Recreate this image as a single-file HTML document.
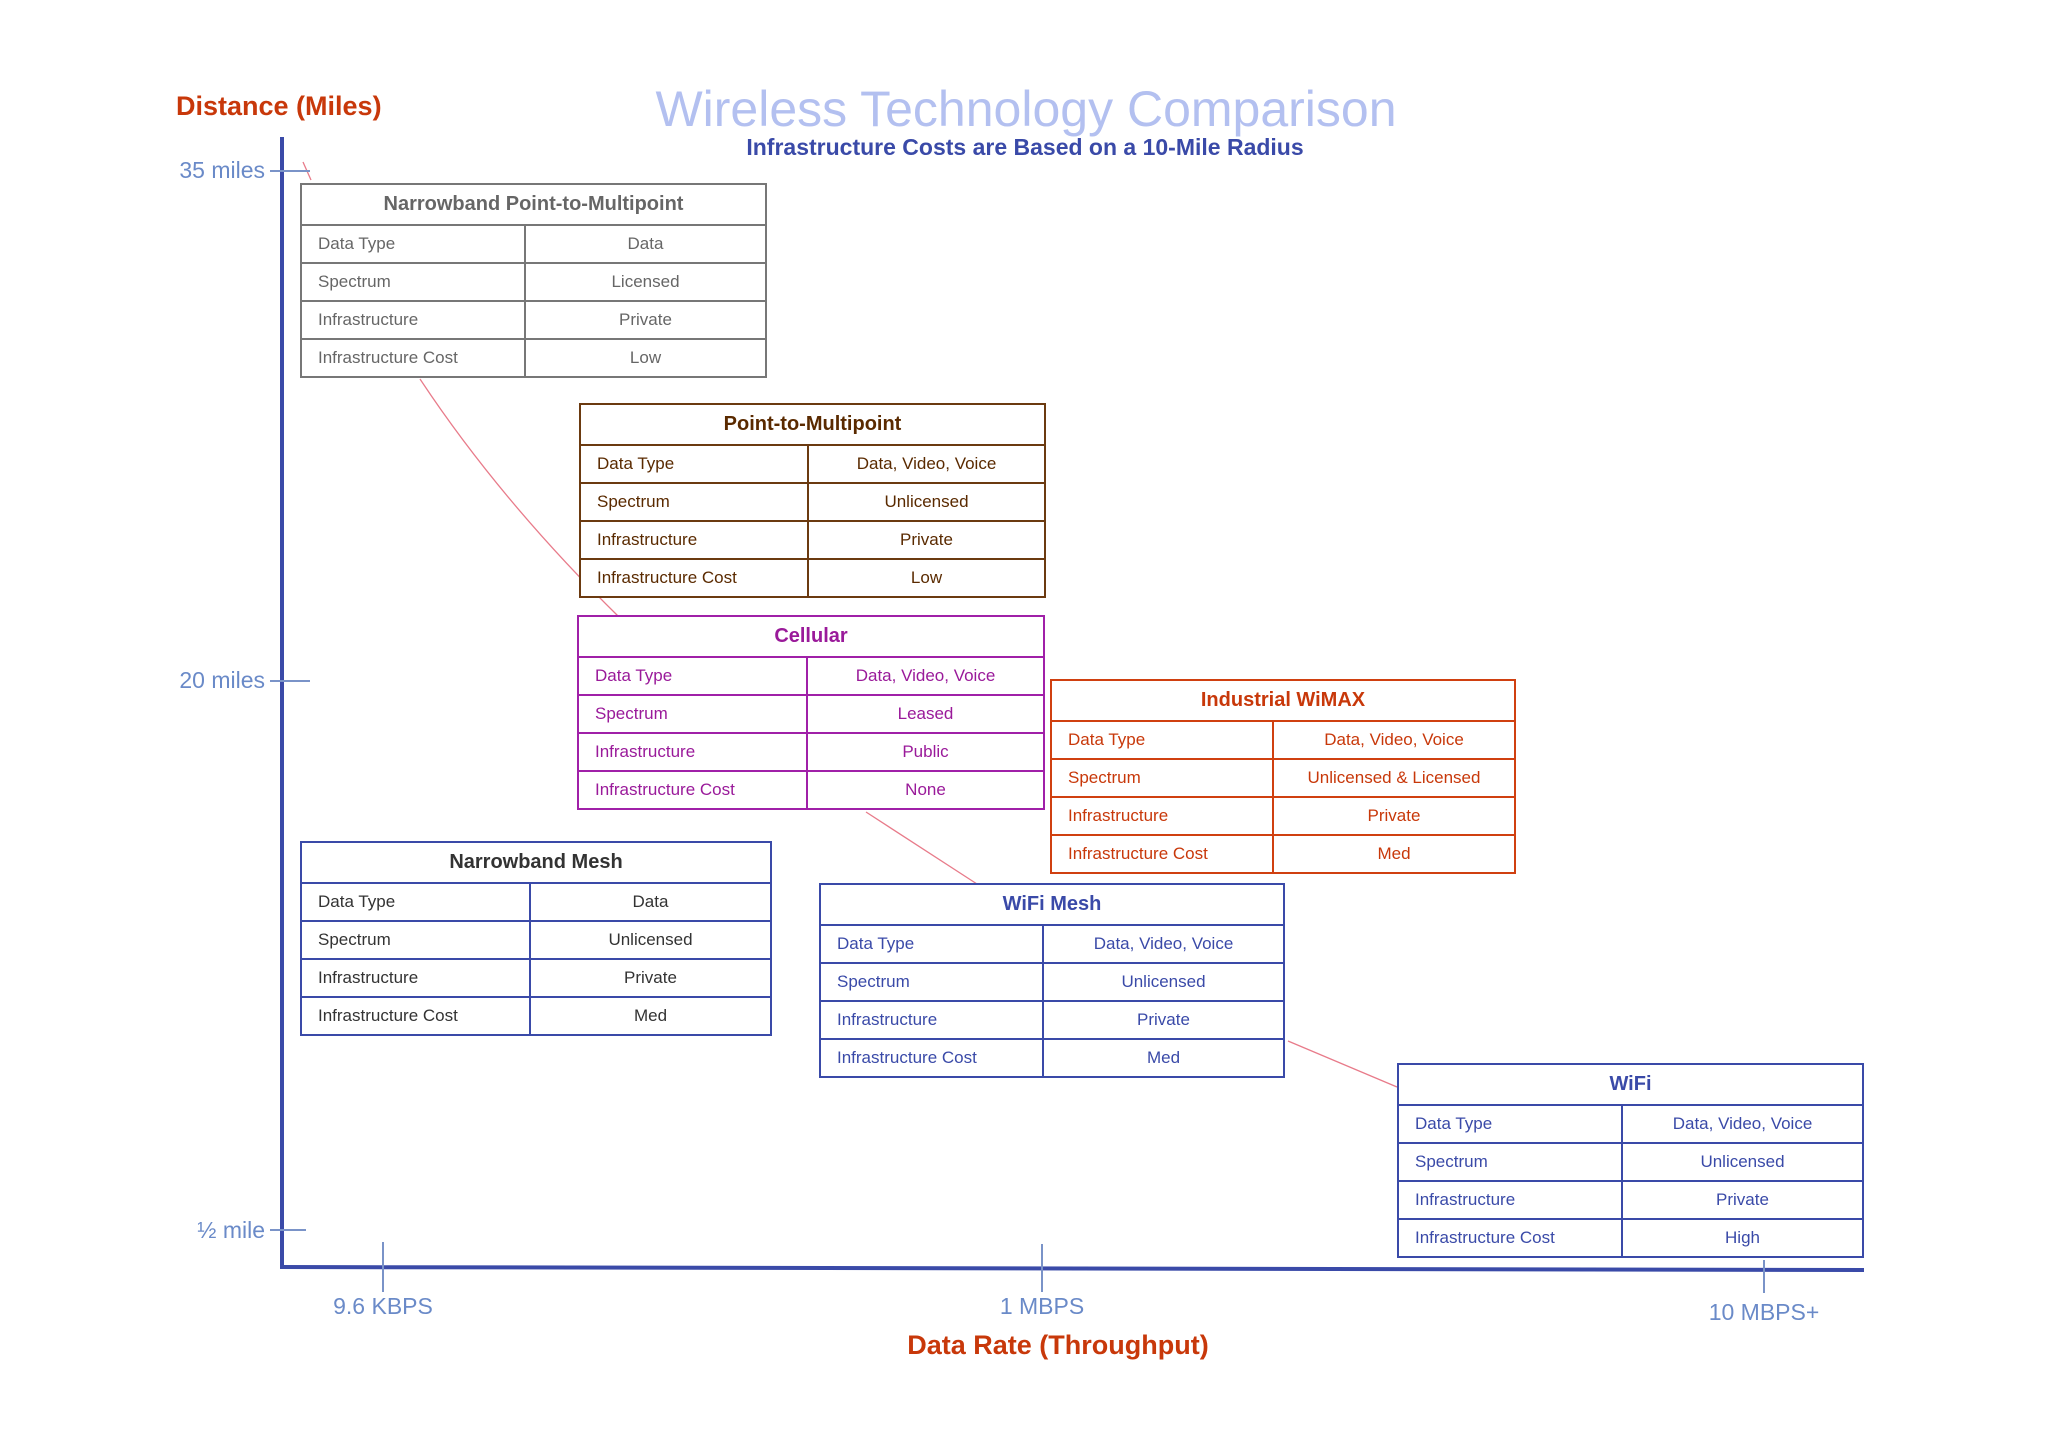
<!DOCTYPE html>
<html><head><meta charset="utf-8"><style>
html,body{margin:0;padding:0;background:#fff;}
body{width:2048px;height:1448px;position:relative;overflow:hidden;font-family:"Liberation Sans",sans-serif;}
.t{position:absolute;border-collapse:collapse;table-layout:fixed;background:#fff;}
.t td{border:2px solid;height:36px;padding:0 0 0 16px;font-size:17px;white-space:nowrap;}
.t td.v{text-align:center;padding:0;}
.t th{border:2px solid;height:37px;font-size:20px;font-weight:bold;}
.lab{position:absolute;white-space:nowrap;}
</style></head><body>
<svg width="2048" height="1448" style="position:absolute;left:0;top:0">
<g stroke="#e87b8a" stroke-width="1.3" fill="none">
<path d="M420,379 Q500,500 619,617"/>
<line x1="866" y1="812" x2="977" y2="884"/>
<line x1="1288" y1="1041" x2="1397" y2="1087"/>
<line x1="303" y1="162" x2="311" y2="180"/>
</g>
<g stroke="#3a4aa8" fill="none">
<line x1="282" y1="137" x2="282" y2="1269" stroke-width="4"/>
<line x1="280" y1="1267" x2="1864" y2="1270" stroke-width="4"/>
</g>
<g stroke="#7a93c8" stroke-width="2">
<line x1="270" y1="171" x2="310" y2="171"/>
<line x1="270" y1="681" x2="310" y2="681"/>
<line x1="270" y1="1230" x2="306" y2="1230"/>
<line x1="383" y1="1242" x2="383" y2="1292"/>
<line x1="1042" y1="1244" x2="1042" y2="1292"/>
<line x1="1764" y1="1260" x2="1764" y2="1293"/>
</g>
</svg>
<div class="lab" style="left:176px;top:91px;font-size:27px;font-weight:bold;color:#c8380a">Distance (Miles)</div>
<div class="lab" style="left:0;width:2052px;text-align:center;top:80px;font-size:50px;color:#b3c0f0">Wireless Technology Comparison</div>
<div class="lab" style="left:0;width:2050px;text-align:center;top:134px;font-size:23px;font-weight:bold;color:#3a4aa8">Infrastructure Costs are Based on a 10-Mile Radius</div>
<div class="lab" style="right:1783px;top:157px;font-size:23px;color:#6a8ac8">35 miles</div>
<div class="lab" style="right:1783px;top:667px;font-size:23px;color:#6a8ac8">20 miles</div>
<div class="lab" style="right:1783px;top:1217px;font-size:23px;color:#6a8ac8">½ mile</div>
<div class="lab" style="left:283px;width:200px;text-align:center;top:1293px;font-size:23px;color:#6a8ac8">9.6 KBPS</div>
<div class="lab" style="left:942px;width:200px;text-align:center;top:1293px;font-size:23px;color:#6a8ac8">1 MBPS</div>
<div class="lab" style="left:1664px;width:200px;text-align:center;top:1299px;font-size:23px;color:#6a8ac8">10 MBPS+</div>
<div class="lab" style="left:858px;width:400px;text-align:center;top:1330px;font-size:27px;font-weight:bold;color:#c8380a">Data Rate (Throughput)</div>

<table class="t" style="left:300px;top:183px;width:467px;color:#666">
<col style="width:224px"><col>
<tr><th colspan="2" style="border-color:#777">Narrowband Point-to-Multipoint</th></tr>
<tr><td style="border-color:#777">Data Type</td><td class="v" style="border-color:#777">Data</td></tr>
<tr><td style="border-color:#777">Spectrum</td><td class="v" style="border-color:#777">Licensed</td></tr>
<tr><td style="border-color:#777">Infrastructure</td><td class="v" style="border-color:#777">Private</td></tr>
<tr><td style="border-color:#777">Infrastructure Cost</td><td class="v" style="border-color:#777">Low</td></tr>
</table>

<table class="t" style="left:579px;top:403px;width:467px;color:#5a2a00">
<col style="width:228px"><col>
<tr><th colspan="2" style="border-color:#6b3a10">Point-to-Multipoint</th></tr>
<tr><td style="border-color:#6b3a10">Data Type</td><td class="v" style="border-color:#6b3a10">Data, Video, Voice</td></tr>
<tr><td style="border-color:#6b3a10">Spectrum</td><td class="v" style="border-color:#6b3a10">Unlicensed</td></tr>
<tr><td style="border-color:#6b3a10">Infrastructure</td><td class="v" style="border-color:#6b3a10">Private</td></tr>
<tr><td style="border-color:#6b3a10">Infrastructure Cost</td><td class="v" style="border-color:#6b3a10">Low</td></tr>
</table>

<table class="t" style="left:577px;top:615px;width:468px;color:#9a1a9a">
<col style="width:229px"><col>
<tr><th colspan="2" style="border-color:#a020a8">Cellular</th></tr>
<tr><td style="border-color:#a020a8">Data Type</td><td class="v" style="border-color:#a020a8">Data, Video, Voice</td></tr>
<tr><td style="border-color:#a020a8">Spectrum</td><td class="v" style="border-color:#a020a8">Leased</td></tr>
<tr><td style="border-color:#a020a8">Infrastructure</td><td class="v" style="border-color:#a020a8">Public</td></tr>
<tr><td style="border-color:#a020a8">Infrastructure Cost</td><td class="v" style="border-color:#a020a8">None</td></tr>
</table>

<table class="t" style="left:1050px;top:679px;width:466px;color:#c8380a">
<col style="width:222px"><col>
<tr><th colspan="2" style="border-color:#d04010">Industrial WiMAX</th></tr>
<tr><td style="border-color:#d04010">Data Type</td><td class="v" style="border-color:#d04010">Data, Video, Voice</td></tr>
<tr><td style="border-color:#d04010">Spectrum</td><td class="v" style="border-color:#d04010">Unlicensed &amp; Licensed</td></tr>
<tr><td style="border-color:#d04010">Infrastructure</td><td class="v" style="border-color:#d04010">Private</td></tr>
<tr><td style="border-color:#d04010">Infrastructure Cost</td><td class="v" style="border-color:#d04010">Med</td></tr>
</table>

<table class="t" style="left:300px;top:841px;width:472px;color:#333">
<col style="width:229px"><col>
<tr><th colspan="2" style="border-color:#3a4aa8">Narrowband Mesh</th></tr>
<tr><td style="border-color:#3a4aa8">Data Type</td><td class="v" style="border-color:#3a4aa8">Data</td></tr>
<tr><td style="border-color:#3a4aa8">Spectrum</td><td class="v" style="border-color:#3a4aa8">Unlicensed</td></tr>
<tr><td style="border-color:#3a4aa8">Infrastructure</td><td class="v" style="border-color:#3a4aa8">Private</td></tr>
<tr><td style="border-color:#3a4aa8">Infrastructure Cost</td><td class="v" style="border-color:#3a4aa8">Med</td></tr>
</table>

<table class="t" style="left:819px;top:883px;width:466px;color:#3a4aa8">
<col style="width:223px"><col>
<tr><th colspan="2" style="border-color:#3a4aa8">WiFi Mesh</th></tr>
<tr><td style="border-color:#3a4aa8">Data Type</td><td class="v" style="border-color:#3a4aa8">Data, Video, Voice</td></tr>
<tr><td style="border-color:#3a4aa8">Spectrum</td><td class="v" style="border-color:#3a4aa8">Unlicensed</td></tr>
<tr><td style="border-color:#3a4aa8">Infrastructure</td><td class="v" style="border-color:#3a4aa8">Private</td></tr>
<tr><td style="border-color:#3a4aa8">Infrastructure Cost</td><td class="v" style="border-color:#3a4aa8">Med</td></tr>
</table>

<table class="t" style="left:1397px;top:1063px;width:467px;color:#3a4aa8">
<col style="width:224px"><col>
<tr><th colspan="2" style="border-color:#3a4aa8">WiFi</th></tr>
<tr><td style="border-color:#3a4aa8">Data Type</td><td class="v" style="border-color:#3a4aa8">Data, Video, Voice</td></tr>
<tr><td style="border-color:#3a4aa8">Spectrum</td><td class="v" style="border-color:#3a4aa8">Unlicensed</td></tr>
<tr><td style="border-color:#3a4aa8">Infrastructure</td><td class="v" style="border-color:#3a4aa8">Private</td></tr>
<tr><td style="border-color:#3a4aa8">Infrastructure Cost</td><td class="v" style="border-color:#3a4aa8">High</td></tr>
</table>
</body></html>
